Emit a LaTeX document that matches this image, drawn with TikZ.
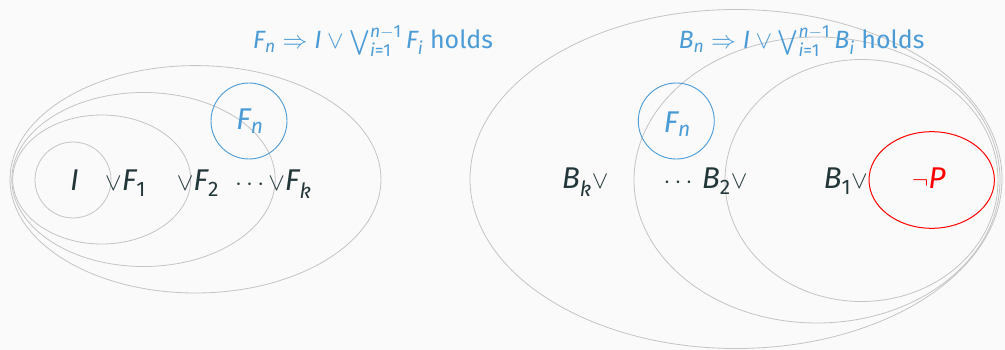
\documentclass[tikz,border=0pt]{standalone}
\usepackage{amsmath}
\usepackage{fontspec}
\setmainfont{Fira Sans}
\definecolor{bgc}{HTML}{FAFAFA}
\definecolor{txt}{HTML}{23373B}
\definecolor{lblue}{RGB}{75,155,215}
\definecolor{egray}{HTML}{C4C4C4}
\newcommand\vv[1]{\textit{#1}}
\newcommand\dd[1]{\text{#1}}
\tikzset{
  ring/.style={draw=egray, line width=0.8pt},
  bluering/.style={draw=lblue, line width=0.9pt},
  redring/.style={draw=red, line width=1pt},
  lbl/.style={inner sep=0pt, anchor=base west, text=txt, font=\fontsize{30}{35}\selectfont},
  bluelbl/.style={lbl, text=lblue},
  title/.style={inner sep=0pt, anchor=base west, text=lblue, font=\fontsize{25}{30}\selectfont},
}
\begin{document}
\begin{tikzpicture}[x=1pt,y=-1pt]
\fill[bgc] (0,0) rectangle (1005,350);
\useasboundingbox (0,0) rectangle (1005,350);
% left ellipses
\draw[ring] (73,180) circle [radius=38pt];
\draw[ring] (101.7,179.5) ellipse [x radius=89pt, y radius=64.5pt];
\draw[ring] (143.5,179.5) ellipse [x radius=131.7pt, y radius=87pt];
\draw[ring] (195.5,179.3) ellipse [x radius=185.5pt, y radius=113.7pt];
\draw[bluering] (249,121) circle [radius=38pt];
% right ellipses
\draw[ring] (736,179) ellipse [x radius=266pt, y radius=169.5pt];
\draw[ring] (817,180) ellipse [x radius=183pt, y radius=143pt];
\draw[ring] (861.5,180.5) ellipse [x radius=136.5pt, y radius=121pt];
\draw[redring] (931.7,180) ellipse [x radius=62.7pt, y radius=48.3pt];
\draw[bluering] (676.3,121) circle [radius=38pt];
% titles
\node[title] (tl) at (252.7,49) {$\vv{F}_{\vv{n}}\Rightarrow\vv{I}\vee\bigvee_{\vv{i}\dd{=1}}^{\vv{n}-\dd{1}}\vv{F}_{\vv{i}}$ holds};
\node[title] (tr) at (678.3,49) {$\vv{B}_{\vv{n}}\Rightarrow\vv{I}\vee\bigvee_{\vv{i}\dd{=1}}^{\vv{n}-\dd{1}}\vv{B}_{\vv{i}}$ holds};
% left labels
\node[lbl] (li) at (70,191) {$\vv{I}$};
\node[lbl] (lf1) at (105,191) {$\vee\vv{F}_{\dd{1}}$};
\node[lbl] (lf2) at (176.7,191) {$\vee\vv{F}_{\dd{2}}$};
\node[lbl] (lfk) at (235,191) {$\cdots{\vee}\vv{F}_{\vv{k}}$};
\node[bluelbl] (lfn) at (236,130) {$\vv{F}_{\vv{n}}$};
% right labels
\node[lbl] (rbk) at (561.7,189) {$\vv{B}_{\vv{k}}\vee$};
\node[lbl] (rdots) at (663.3,189) {$\cdots$};
\node[lbl] (rb2) at (701.7,189) {$\vv{B}_{\dd{2}}\vee$};
\node[lbl] (rb1) at (823.3,189) {$\vv{B}_{\dd{1}}\vee$};
\node[lbl, text=red] (rnp) at (911.7,189) {$\neg\vv{P}$};
\node[bluelbl] (rfn) at (663.3,133) {$\vv{F}_{\vv{n}}$};
\end{tikzpicture}
\end{document}
